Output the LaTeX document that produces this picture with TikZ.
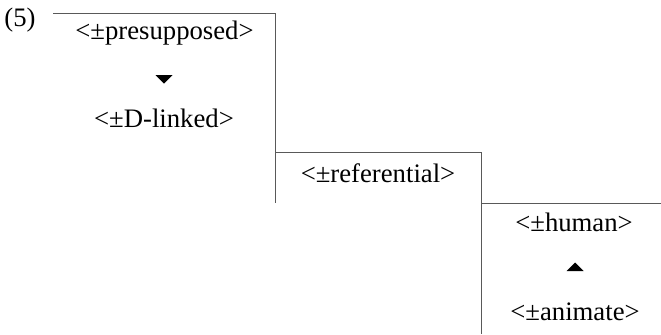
\documentclass[tikz,border=0pt]{standalone}
\usepackage{fontspec}
\setmainfont{Liberation Serif}
\begin{document}
\begin{tikzpicture}[x=1bp,y=-1bp,
  lbl/.style={inner sep=0pt,font=\fontsize{26.7bp}{31bp}\selectfont},
  rule/.style={draw=black!65,line width=0.9bp},
  tri/.style={fill=black}]
\useasboundingbox (0,0) rectangle (661,334);
\node[lbl] (num) at (20,20) {(5)};
\node[lbl] (pres) at (164.5,33) {<±presupposed>};
\coordinate (t1) at (164,79);
\node[lbl] (dl) at (164,118) {<±D-linked>};
\node[lbl] (ref) at (378,173) {<±referential>};
\node[lbl] (hum) at (574,222) {<±human>};
\coordinate (t2) at (575,267);
\node[lbl] (ani) at (575,312) {<±animate>};
\coordinate (a1) at (53,13);
\coordinate (a2) at (275,13);
\coordinate (a3) at (275,203);
\coordinate (b1) at (275,152);
\coordinate (b2) at (481,152);
\coordinate (b3) at (481,334);
\coordinate (c1) at (481,203);
\coordinate (c2) at (661,203);
\draw[rule] (a1) -- (a2) -- (a3);
\draw[rule] (b1) -- (b2) -- (b3);
\draw[rule] (c1) -- (c2);
\fill[tri] ([shift={(-8.5,-4)}]t1) -- ([shift={(8.5,-4)}]t1) -- ([shift={(0,4.5)}]t1) -- cycle;
\fill[tri] ([shift={(-8.5,4)}]t2) -- ([shift={(8.5,4)}]t2) -- ([shift={(0,-4.5)}]t2) -- cycle;
\end{tikzpicture}
\end{document}
